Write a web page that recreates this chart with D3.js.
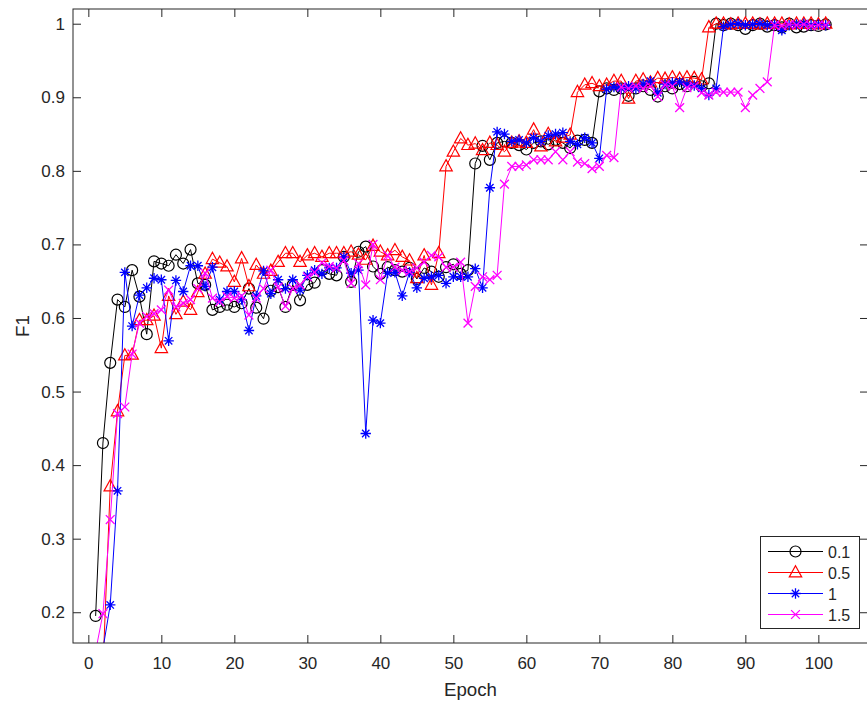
<!DOCTYPE html>
<html>
<head>
<meta charset="utf-8">
<script src="https://cdn.jsdelivr.net/npm/d3@7"></script>
<style>
  html, body { margin: 0; padding: 0; background: #fff; }
  svg { display: block; }
  text { font-family: "Liberation Sans", Arial, Helvetica, sans-serif; fill: #262626; }
</style>
</head>
<body>
<svg id="chart" width="867" height="701"></svg>
<script>
// ---- data ----
const seriesNames = ["0.1", "0.5", "1", "1.5"];
const xTicks = [0, 10, 20, 30, 40, 50, 60, 70, 80, 90, 100];
const yTicks = [0.2, 0.3, 0.4, 0.5, 0.6, 0.7, 0.8, 0.9, 1];
const yTickLabels = ["0.2", "0.3", "0.4", "0.5", "0.6", "0.7", "0.8", "0.9", "1"];

const f01 = [0.195,0.430,0.539,0.625,0.615,0.665,0.629,0.578,0.677,0.674,
  0.671,0.686,0.674,0.693,0.647,0.645,0.611,0.615,0.618,0.615,
  0.620,0.640,0.614,0.599,0.637,0.642,0.615,0.645,0.624,0.645,
  0.648,0.665,0.660,0.658,0.683,0.649,0.690,0.697,0.670,0.660,
  0.669,0.665,0.663,0.668,0.653,0.668,0.663,0.656,0.669,0.673,
  0.660,0.665,0.810,0.834,0.815,0.838,0.840,0.838,0.835,0.829,
  0.838,0.840,0.836,0.842,0.838,0.831,0.841,0.842,0.838,0.908,
  0.912,0.910,0.912,0.902,0.912,0.915,0.910,0.901,0.915,0.912,
  0.918,0.915,0.921,0.915,0.919,1.000,0.998,1.000,0.998,0.993,
  0.998,1.000,0.996,0.998,0.995,1.000,0.995,0.996,0.998,0.997,0.999];

const f05 = [0.050,0.122,0.371,0.473,0.549,0.550,0.597,0.597,0.603,0.559,
  0.630,0.605,0.622,0.611,0.635,0.660,0.680,0.675,0.670,0.649,
  0.681,0.643,0.672,0.660,0.664,0.676,0.688,0.688,0.676,0.685,
  0.688,0.683,0.688,0.688,0.688,0.690,0.686,0.679,0.698,0.690,
  0.685,0.692,0.683,0.678,0.654,0.685,0.645,0.688,0.806,0.826,
  0.844,0.835,0.837,0.828,0.838,0.835,0.826,0.838,0.840,0.838,
  0.856,0.833,0.850,0.840,0.845,0.849,0.907,0.917,0.919,0.915,
  0.917,0.922,0.922,0.898,0.922,0.924,0.920,0.926,0.925,0.927,
  0.925,0.927,0.926,0.924,0.995,1.000,1.000,0.999,1.000,1.000,
  1.000,0.999,1.000,1.000,1.000,0.999,1.000,1.000,1.000,0.999,1.000];

const f1 = [0.080,0.150,0.210,0.365,0.662,0.589,0.631,0.641,0.654,0.652,
  0.569,0.651,0.636,0.671,0.671,0.643,0.669,0.625,0.636,0.636,
  0.625,0.583,0.630,0.664,0.633,0.652,0.640,0.652,0.638,0.658,
  0.665,0.660,0.668,0.668,0.683,0.661,0.665,0.443,0.597,0.593,
  0.661,0.662,0.630,0.662,0.641,0.654,0.656,0.658,0.647,0.656,
  0.656,0.656,0.667,0.641,0.777,0.853,0.850,0.840,0.842,0.838,
  0.845,0.840,0.848,0.850,0.852,0.840,0.836,0.845,0.838,0.817,
  0.911,0.914,0.912,0.915,0.912,0.918,0.922,0.906,0.918,0.920,
  0.921,0.918,0.916,0.912,0.903,0.912,0.996,0.999,1.000,0.998,
  0.999,1.000,0.998,0.999,0.991,0.998,0.999,1.000,0.998,0.999,0.998];

const f15 = [0.147,0.198,0.326,0.470,0.479,0.551,0.593,0.602,0.606,0.611,
  0.638,0.615,0.620,0.625,0.640,0.661,0.627,0.622,0.629,0.627,
  0.630,0.604,0.627,0.640,0.665,0.642,0.616,0.640,0.645,0.656,
  0.662,0.675,0.670,0.668,0.678,0.647,0.674,0.645,0.700,0.652,
  0.685,0.669,0.665,0.663,0.668,0.676,0.685,0.683,0.669,0.669,
  0.676,0.593,0.643,0.656,0.652,0.658,0.782,0.806,0.806,0.808,
  0.815,0.815,0.815,0.826,0.815,0.826,0.812,0.810,0.803,0.806,
  0.821,0.818,0.914,0.912,0.915,0.912,0.915,0.901,0.917,0.915,
  0.886,0.913,0.915,0.906,0.903,0.907,0.907,0.907,0.907,0.886,
  0.903,0.912,0.921,0.998,0.997,0.999,0.998,0.999,0.997,0.998,0.998];

const epochs = d3.range(1, f01.length + 1);
const seriesValues = [f01, f05, f1, f15];
const seriesColors = ["#000000", "#ff0000", "#0000ff", "#ff00ff"];
const seriesMarkers = ["circle", "triangle", "asterisk", "cross"];

// ---- layout ----
const svg = d3.select("#chart");
const L = 73, R = 868, T = 9, B = 643;
const x = d3.scaleLinear().domain([-2.1, 106.8]).range([L, R]);
const y = d3.scaleLinear().domain([0.1582, 1.02]).range([B, T]);
const axisColor = "#262626";
const tickLen = 8;

svg.append("defs").append("clipPath").attr("id", "clip")
  .append("rect").attr("x", L).attr("y", T).attr("width", R - L).attr("height", B - T);

// white axes background
svg.append("rect").attr("x", L).attr("y", T).attr("width", R - L).attr("height", B - T).attr("fill", "#fff");

// ---- axes via d3 ----
const xAxisB = d3.axisBottom(x).tickValues(xTicks).tickSizeInner(-tickLen).tickSizeOuter(0).tickPadding(14).tickFormat(d3.format("d"));
const xAxisT = d3.axisTop(x).tickValues(xTicks).tickSizeInner(-tickLen).tickSizeOuter(0).tickFormat("");
const yAxisL = d3.axisLeft(y).tickValues(yTicks).tickSizeInner(-tickLen).tickSizeOuter(0).tickPadding(8)
  .tickFormat((d, i) => yTickLabels[i]);
const yAxisR = d3.axisRight(y).tickValues(yTicks).tickSizeInner(-tickLen).tickSizeOuter(0).tickFormat("");

function styleAxis(g) {
  g.select(".domain").remove();
  g.selectAll(".tick line").attr("stroke", axisColor).attr("stroke-width", 1);
  g.selectAll(".tick text").attr("fill", axisColor).style("font-size", "17px")
    .style("font-family", '"Liberation Sans", Arial, Helvetica, sans-serif');
}
svg.append("g").attr("transform", `translate(0,${B})`).call(xAxisB).call(styleAxis);
svg.append("g").attr("transform", `translate(0,${T})`).call(xAxisT).call(styleAxis);
svg.append("g").attr("transform", `translate(${L},0)`).call(yAxisL).call(styleAxis);
svg.append("g").attr("transform", `translate(${R},0)`).call(yAxisR).call(styleAxis);

// ---- data ----
const plot = svg.append("g").attr("clip-path", "url(#clip)");
const line = d3.line().x((d, i) => x(epochs[i])).y(d => y(d));

function markerPath(type) {
  if (type === "triangle") return "M0,-6.8L6.2,4.4L-6.2,4.4Z";
  if (type === "asterisk") {
    const a = 5.2, b = 3.7;
    return `M${-a},0L${a},0M0,${-a}L0,${a}M${-b},${-b}L${b},${b}M${-b},${b}L${b},${-b}`;
  }
  if (type === "cross") {
    const b = 4.4;
    return `M${-b},${-b}L${b},${b}M${-b},${b}L${b},${-b}`;
  }
  return null;
}

function drawMarker(g, type, color, cx, cy) {
  if (type === "circle") {
    g.append("circle").attr("cx", cx).attr("cy", cy).attr("r", 5.5)
      .attr("fill", "none").attr("stroke", color).attr("stroke-width", 1.2);
  } else {
    g.append("path").attr("d", markerPath(type)).attr("transform", `translate(${cx},${cy})`)
      .attr("fill", "none").attr("stroke", color).attr("stroke-width", type === "triangle" ? 1.2 : 1.3);
  }
}

seriesValues.forEach((vals, si) => {
  const g = plot.append("g");
  g.append("path").datum(vals).attr("d", line)
    .attr("fill", "none").attr("stroke", seriesColors[si]).attr("stroke-width", 1);
  vals.forEach((v, i) => drawMarker(g, seriesMarkers[si], seriesColors[si], x(epochs[i]), y(v)));
});

// ---- box ----
svg.append("rect").attr("x", L).attr("y", T).attr("width", R - L).attr("height", B - T)
  .attr("fill", "none").attr("stroke", axisColor).attr("stroke-width", 1);

// ---- axis labels ----
svg.append("text").attr("x", (L + R) / 2).attr("y", 696).attr("text-anchor", "middle")
  .style("font-size", "18.7px").text("Epoch");
svg.append("text").attr("transform", `translate(29,${(T + B) / 2}) rotate(-90)`)
  .attr("text-anchor", "middle").style("font-size", "18.7px").text("F1");

// ---- legend ----
const lg = svg.append("g");
lg.append("rect").attr("x", 760.5).attr("y", 536.5).attr("width", 99).attr("height", 92)
  .attr("fill", "#fff").attr("stroke", axisColor).attr("stroke-width", 1);
const rowY = [551.5, 572.5, 593.5, 614.5];
seriesNames.forEach((name, si) => {
  const yy = rowY[si];
  lg.append("line").attr("x1", 768).attr("x2", 823).attr("y1", yy).attr("y2", yy)
    .attr("stroke", seriesColors[si]).attr("stroke-width", 1);
  drawMarker(lg, seriesMarkers[si], seriesColors[si], 795.5, yy);
  lg.append("text").attr("x", 828).attr("y", yy + 6).style("font-size", "16px").text(name);
});
</script>
</body>
</html>
